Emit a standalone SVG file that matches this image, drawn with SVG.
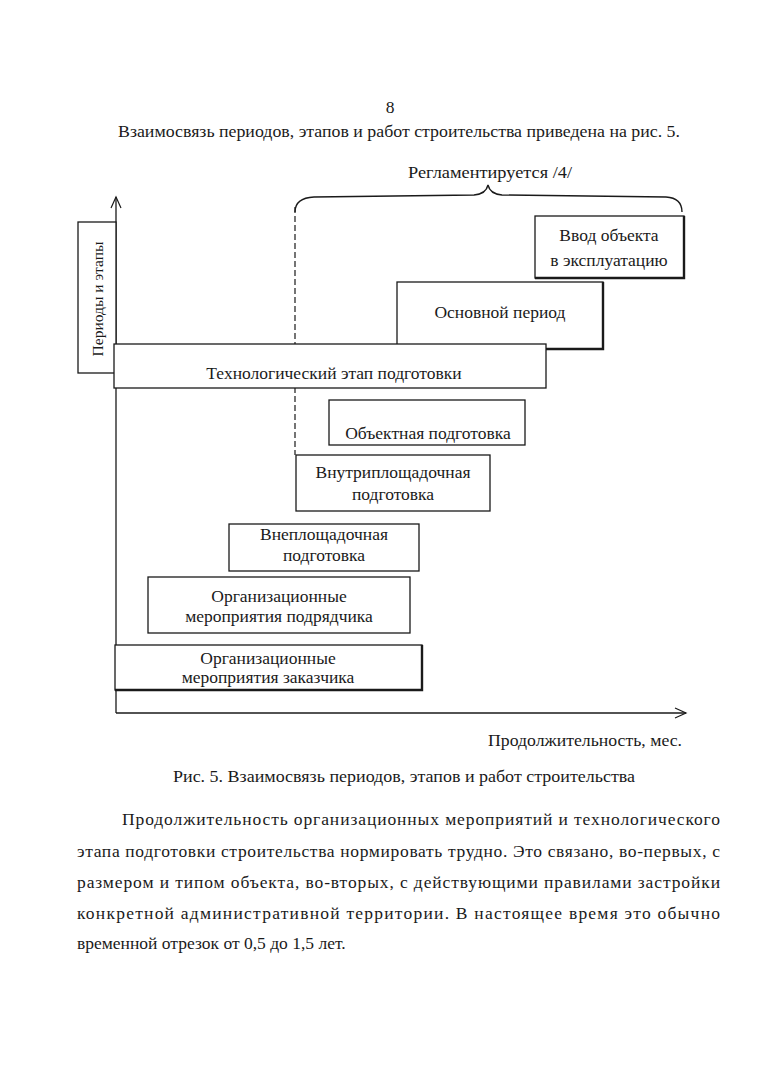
<svg xmlns="http://www.w3.org/2000/svg" width="759" height="1080" viewBox="0 0 759 1080">
<style>
text{font-family:"Liberation Serif","Times New Roman",serif;fill:#1a1a1a}
.t{font-size:17.5px}
.b{font-size:17.5px;text-anchor:middle}
.box{fill:#fff;stroke:#1a1a1a;stroke-width:1.3}
.sh{fill:none;stroke:#1a1a1a;stroke-width:2.4}
.ax{fill:none;stroke:#1a1a1a;stroke-width:1.3}
</style>
<defs>
<marker id="arr" markerWidth="14" markerHeight="12" refX="12" refY="6" orient="auto" markerUnits="userSpaceOnUse">
<path d="M1,1 L12,6 L1,11" fill="none" stroke="#1a1a1a" stroke-width="1.2"/>
</marker>
</defs>
<rect width="759" height="1080" fill="#fff"/>
<text class="t" x="390" y="113" text-anchor="middle">8</text>
<text class="t" x="118" y="137" textLength="562" lengthAdjust="spacingAndGlyphs">Взаимосвязь периодов, этапов и работ строительства приведена на рис. 5.</text>

<g id="connectors">
<line class="ax" x1="116" y1="713" x2="116" y2="197" marker-end="url(#arr)"/>
<line class="ax" x1="116" y1="713" x2="686" y2="713" marker-end="url(#arr)"/>
<line x1="295" y1="207" x2="295" y2="455" stroke="#1a1a1a" stroke-width="1.2" stroke-dasharray="6,3"/>
<path d="M295,212 Q295,198 314,197 L474,195 Q486,194 488,185 Q490,194 502,195 L666,197 Q682,198 682,212" fill="none" stroke="#1a1a1a" stroke-width="1.4"/>
</g>

<g id="reglament"><text class="t" x="408" y="178" textLength="164" lengthAdjust="spacingAndGlyphs">Регламентируется /4/</text></g>

<g id="yaxis-label">
<rect class="box" x="78" y="222" width="38" height="151"/>
<text transform="translate(103,299) rotate(-90)" font-size="15.5" text-anchor="middle">Периоды и этапы</text>
</g>

<g id="vvod">
<rect class="box" x="535" y="216" width="149" height="62"/>
<path class="sh" d="M684,216 L684,278 L535,278"/>
<text class="b" x="609" y="241">Ввод объекта</text>
<text class="b" x="609" y="266">в эксплуатацию</text>
</g>

<g id="osnovnoy">
<rect class="box" x="397" y="282" width="206" height="67"/>
<path class="sh" d="M603,282 L603,349 L546,349"/>
<text class="b" x="500" y="318">Основной период</text>
</g>

<g id="tech">
<rect class="box" x="114" y="344" width="432" height="44"/>
<text class="b" x="334" y="379">Технологический этап подготовки</text>
</g>

<g id="object">
<rect class="box" x="329" y="400" width="196" height="45"/>
<text class="b" x="428" y="439">Объектная подготовка</text>
</g>

<g id="vnutri">
<rect class="box" x="296" y="455" width="194" height="56"/>
<text class="b" x="393" y="478">Внутриплощадочная</text>
<text class="b" x="393" y="500">подготовка</text>
</g>

<g id="vne">
<rect class="box" x="229" y="524" width="190" height="47"/>
<text class="b" x="324" y="540">Внеплощадочная</text>
<text class="b" x="324" y="561">подготовка</text>
</g>

<g id="podryad">
<rect class="box" x="148" y="577" width="262" height="56"/>
<text class="b" x="279" y="602">Организационные</text>
<text class="b" x="279" y="622">мероприятия подрядчика</text>
</g>

<g id="zakaz">
<rect class="box" x="115" y="645" width="307" height="45"/>
<path class="sh" d="M422,645 L422,690 L115,690"/>
<text class="b" x="268" y="664">Организационные</text>
<text class="b" x="268" y="683">мероприятия заказчика</text>
</g>

<text class="t" x="488" y="746" textLength="194" lengthAdjust="spacingAndGlyphs">Продолжительность, мес.</text>
<text class="t" x="173" y="782" textLength="462" lengthAdjust="spacingAndGlyphs">Рис. 5. Взаимосвязь периодов, этапов и работ строительства</text>

<text class="t" x="122" y="825" textLength="598" lengthAdjust="spacing">Продолжительность организационных мероприятий и технологического</text>
<text class="t" x="77" y="857" textLength="643" lengthAdjust="spacing">этапа подготовки строительства  нормировать трудно. Это связано, во-первых, с</text>
<text class="t" x="77" y="888" textLength="643" lengthAdjust="spacing">размером и типом объекта, во-вторых, с действующими правилами застройки</text>
<text class="t" x="77" y="919" textLength="643" lengthAdjust="spacing">конкретной административной территории. В настоящее время это обычно</text>
<text class="t" x="77" y="949">временной отрезок от 0,5 до 1,5 лет.</text>
</svg>
